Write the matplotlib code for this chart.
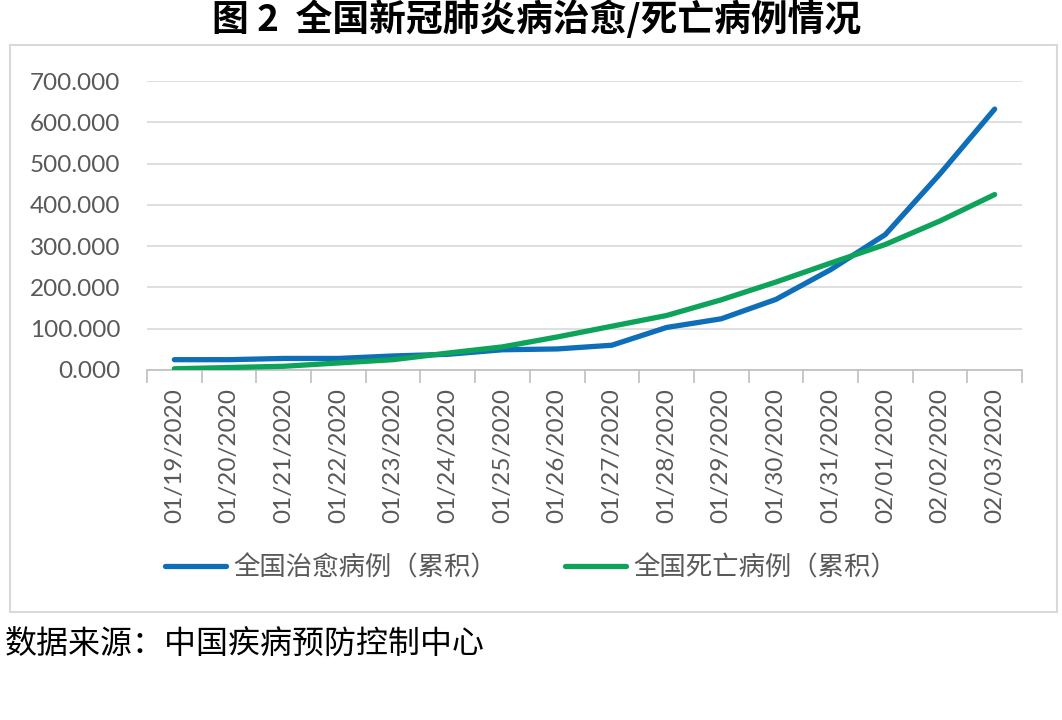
import matplotlib
matplotlib.use("Agg")
import matplotlib.pyplot as plt
from matplotlib.patches import Rectangle
import numpy as np

dates = ["01/19/2020", "01/20/2020", "01/21/2020", "01/22/2020", "01/23/2020",
         "01/24/2020", "01/25/2020", "01/26/2020", "01/27/2020", "01/28/2020",
         "01/29/2020", "01/30/2020", "01/31/2020", "02/01/2020", "02/02/2020",
         "02/03/2020"]
cured = [25, 25, 28, 28, 34, 38, 49, 51, 60, 103, 124, 171, 243, 328, 475, 632]
deaths = [3, 6, 9, 17, 25, 41, 56, 80, 106, 132, 170, 213, 259, 304, 361, 425]
yticks = [0, 100, 200, 300, 400, 500, 600, 700]
series_names = ["全国治愈病例（累积）", "全国死亡病例（累积）"]
title = "图 2  全国新冠肺炎病治愈/死亡病例情况"
source = "数据来源：中国疾病预防控制中心"

plt.rcParams['font.family'] = ['Noto Sans CJK SC', 'DejaVu Sans']

W, H = 1062, 720
fig = plt.figure(figsize=(W/100, H/100), dpi=100)

# chart border box
fig.patches.append(Rectangle((10/W, 1-612/H), (1057-10)/W, (612-45)/H,
                             transform=fig.transFigure, fill=False,
                             edgecolor="#D9D9D9", linewidth=1.5))

ax = fig.add_axes([147/W, 1-370/H, (1022-147)/W, (370-81)/H])
x = np.arange(len(dates))
blue = "#0F6EB8"
green = "#0DA35A"
ax.plot(x, cured, color=blue, lw=3.8, solid_capstyle="round", solid_joinstyle="round", label=series_names[0], zorder=3)
ax.plot(x, deaths, color=green, lw=3.8, solid_capstyle="round", solid_joinstyle="round", label=series_names[1], zorder=3)

ax.set_xlim(-0.5, len(dates) - 0.5)
ax.set_ylim(0, 700)
ax.set_yticks(yticks)
ax.set_yticklabels([f"{v:.3f}" for v in yticks], fontsize=17.5, color="#595959", family=["Lato", "DejaVu Sans"])
ax.yaxis.grid(True, color="#D9D9D9", lw=1.2)
ax.set_axisbelow(True)
for s in ["top", "right", "left"]:
    ax.spines[s].set_visible(False)
ax.spines["bottom"].set_color("#BFBFBF")
ax.spines["bottom"].set_linewidth(1.2)
ax.tick_params(axis="y", length=0, pad=19)

ax.set_xticks(np.arange(-0.5, len(dates)), minor=False)
ax.set_xticklabels([])
ax.tick_params(axis="x", which="major", length=9, color="#BFBFBF", width=1.2)
ax.set_xticks(x, minor=True)
ax.set_xticklabels(dates, minor=True, rotation=90, fontsize=17.5, color="#595959", family=["Lato", "DejaVu Sans"])
ax.tick_params(axis="x", which="minor", length=0, pad=13)

leg = fig.legend(loc="center", bbox_to_anchor=(531/W, 1-568/H), ncol=2, frameon=False,
                 fontsize=19, handlelength=2.3, handletextpad=0.27, columnspacing=2.6)
for t in leg.get_texts():
    t.set_color("#595959")

fig.text(537/W, 1-20/H, title, ha="center", va="center", fontsize=26.5, fontweight="bold", color="black")
fig.text(5/W, 1-645/H, source, ha="left", va="center", fontsize=23, color="black")

fig.savefig("out.png", dpi=100)
